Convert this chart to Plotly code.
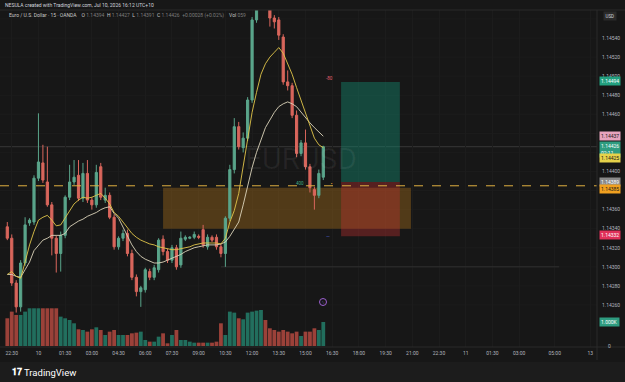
import plotly.graph_objects as go

# ---------------- data (EURUSD 15m, OANDA) ----------------
candle_open = [1.14342, 1.14330, 1.14283, 1.14258, 1.14304, 1.14346, 1.14347, 1.14393, 1.14409, 1.14389,
               1.14365, 1.14330, 1.14314, 1.14333, 1.14373, 1.14389, 1.14396, 1.14372, 1.14398, 1.14370,
               1.14365, 1.14405, 1.14370, 1.14375, 1.14352, 1.14321, 1.14330, 1.14335, 1.14314, 1.14289,
               1.14274, 1.14276, 1.14295, 1.14289, 1.14297, 1.14329, 1.14316, 1.14307, 1.14320, 1.14302,
               1.14329, 1.14330, 1.14331, 1.14332, 1.14339, 1.14321, 1.14331, 1.14331, 1.14321, 1.14314,
               1.14351, 1.14402, 1.14447, 1.14425, 1.14435, 1.14475, 1.14559, 1.14575, 1.14601, 1.14585,
               1.14561, 1.14559, 1.14541, 1.14494, 1.14490, 1.14459, 1.14419, 1.14430, 1.14405, 1.14381,
               1.14375, 1.14394]
candle_high = [1.14347, 1.14334, 1.14286, 1.14307, 1.14352, 1.14351, 1.14396, 1.14461, 1.14428, 1.14426,
               1.14368, 1.14333, 1.14337, 1.14375, 1.14407, 1.14412, 1.14412, 1.14409, 1.14412, 1.14373,
               1.14407, 1.14409, 1.14383, 1.14378, 1.14355, 1.14332, 1.14339, 1.14339, 1.14318, 1.14292,
               1.14280, 1.14299, 1.14298, 1.14302, 1.14330, 1.14333, 1.14319, 1.14323, 1.14323, 1.14337,
               1.14333, 1.14332, 1.14337, 1.14334, 1.14344, 1.14334, 1.14333, 1.14334, 1.14324, 1.14353,
               1.14407, 1.14456, 1.14452, 1.14441, 1.14478, 1.14562, 1.14580, 1.14606, 1.14609, 1.14588,
               1.14564, 1.14562, 1.14544, 1.14506, 1.14493, 1.14464, 1.14433, 1.14444, 1.14408, 1.14384,
               1.14402, 1.14427]
candle_low = [1.14328, 1.14280, 1.14252, 1.14253, 1.14301, 1.14343, 1.14344, 1.14390, 1.14388, 1.14363,
              1.14312, 1.14294, 1.14295, 1.14330, 1.14370, 1.14386, 1.14369, 1.14368, 1.14367, 1.14360,
              1.14362, 1.14370, 1.14367, 1.14350, 1.14318, 1.14318, 1.14327, 1.14311, 1.14286, 1.14269,
              1.14258, 1.14273, 1.14286, 1.14286, 1.14294, 1.14312, 1.14304, 1.14304, 1.14297, 1.14299,
              1.14327, 1.14329, 1.14329, 1.14329, 1.14320, 1.14318, 1.14326, 1.14318, 1.14310, 1.14300,
              1.14348, 1.14398, 1.14423, 1.14420, 1.14432, 1.14472, 1.14556, 1.14571, 1.14578, 1.14552,
              1.14550, 1.14538, 1.14491, 1.14485, 1.14456, 1.14415, 1.14416, 1.14402, 1.14378, 1.14360,
              1.14372, 1.14391]
candle_close = [1.14330, 1.14283, 1.14258, 1.14304, 1.14344, 1.14349, 1.14393, 1.14410, 1.14391, 1.14365,
                1.14330, 1.14314, 1.14333, 1.14373, 1.14389, 1.14394, 1.14372, 1.14398, 1.14370, 1.14365,
                1.14399, 1.14373, 1.14375, 1.14352, 1.14321, 1.14330, 1.14335, 1.14314, 1.14289, 1.14274,
                1.14278, 1.14297, 1.14289, 1.14299, 1.14328, 1.14316, 1.14307, 1.14320, 1.14300, 1.14330,
                1.14331, 1.14331, 1.14334, 1.14331, 1.14323, 1.14331, 1.14328, 1.14321, 1.14314, 1.14351,
                1.14402, 1.14447, 1.14426, 1.14435, 1.14475, 1.14559, 1.14575, 1.14601, 1.14585, 1.14561,
                1.14557, 1.14543, 1.14494, 1.14490, 1.14459, 1.14419, 1.14430, 1.14405, 1.14383, 1.14375,
                1.14398, 1.14426]
volume = [1154, 1432, 1293, 1293, 1432, 1571, 1571, 1571, 1571, 1571,
          1571, 1571, 1223, 1154, 1084, 945, 695, 667, 598, 695,
          778, 667, 459, 598, 667, 459, 459, 459, 528, 556,
          598, 250, 181, 181, 389, 528, 111, 459, 667, 250,
          250, 181, 139, 139, 139, 139, 139, 181, 945, 459,
          1432, 1390, 1154, 1112, 1390, 1432, 1473, 1501, 1084, 737,
          667, 598, 667, 598, 528, 598, 417, 598, 598, 737,
          667, 1000]
ma_fast = [1.14292, 1.14295, 1.14290, 1.14288, 1.14305, 1.14323, 1.14337, 1.14349, 1.14352, 1.14354,
           1.14349, 1.14343, 1.14344, 1.14351, 1.14359, 1.14366, 1.14370, 1.14373, 1.14372, 1.14373,
           1.14375, 1.14377, 1.14372, 1.14366, 1.14357, 1.14353, 1.14347, 1.14341, 1.14335, 1.14331,
           1.14328, 1.14326, 1.14324, 1.14323, 1.14321, 1.14320, 1.14319, 1.14318, 1.14318, 1.14319,
           1.14320, 1.14321, 1.14323, 1.14324, 1.14325, 1.14325, 1.14325, 1.14325, 1.14324, 1.14330,
           1.14347, 1.14359, 1.14377, 1.14405, 1.14433, 1.14462, 1.14483, 1.14502, 1.14513, 1.14520,
           1.14525, 1.14530, 1.14524, 1.14513, 1.14502, 1.14488, 1.14475, 1.14460, 1.14447, 1.14435,
           1.14428, 1.14425]
ma_slow = [1.14292, 1.14292, 1.14290, 1.14289, 1.14297, 1.14305, 1.14317, 1.14323, 1.14328, 1.14330,
           1.14333, 1.14333, 1.14333, 1.14335, 1.14342, 1.14345, 1.14348, 1.14350, 1.14353, 1.14355,
           1.14357, 1.14360, 1.14362, 1.14363, 1.14356, 1.14351, 1.14342, 1.14333, 1.14323, 1.14316,
           1.14311, 1.14308, 1.14306, 1.14304, 1.14304, 1.14305, 1.14307, 1.14309, 1.14311, 1.14313,
           1.14316, 1.14318, 1.14320, 1.14321, 1.14322, 1.14323, 1.14323, 1.14323, 1.14324, 1.14326,
           1.14332, 1.14339, 1.14347, 1.14365, 1.14386, 1.14404, 1.14420, 1.14433, 1.14446, 1.14454,
           1.14462, 1.14468, 1.14471, 1.14473, 1.14471, 1.14468, 1.14462, 1.14457, 1.14451, 1.14446,
           1.14441, 1.14437]

# time axis labels (candle-index positions, 15-minute bars starting Jul 9 22:15)
time_tick_idx = [1, 7, 13, 19, 25, 31, 37, 43, 49, 55, 61, 67, 73, 79, 85, 91, 97, 103, 109, 115, 123, 131]
time_tick_txt = ["22:30", "10", "01:30", "03:00", "04:30", "06:00", "07:30", "09:00", "10:30", "12:00",
                 "13:30", "15:00", "16:30", "18:00", "19:30", "21:00", "22:30", "11", "01:30", "03:00",
                 "05:00", "13"]
price_ticks = [1.1426, 1.1428, 1.1430, 1.1432, 1.1434, 1.1436, 1.1440,
               1.1446, 1.1448, 1.1450, 1.1452, 1.1454]
grid_ticks = [1.1426, 1.1428, 1.1430, 1.1432, 1.1434, 1.1436, 1.1438, 1.1440, 1.1442, 1.1444,
              1.1446, 1.1448, 1.1450, 1.1452, 1.1454, 1.1456]

# drawings
zone_idx = (35.0, 90.7)
zone_price = (1.14340, 1.14383)
pos_idx = (75.0, 88.2)
pos_entry, pos_target, pos_stop = 1.14389, 1.14494, 1.14332
alert_line = 1.14385
hline_price = 1.14426
hline2_price = 1.14300

# ---------------- layout geometry ----------------
W, H = 625, 382
ML, MR, MT, MB = 0, 28, 10, 35
PW, PH = W - ML - MR, H - MT - MB
BG = "#171717"
GRID = "#1c1c1c"
TXT = "#b2b5be"
UP, DN = "#5aa58b", "#d9665c"
FONT = "Roboto"


def px(x):
    return (x - ML) / PW


def py(y):
    return (H - MB - y) / PH


idx = list(range(len(candle_open)))
vol_colors = ["rgba(38,140,118,0.75)" if c >= o else "rgba(200,80,70,0.75)"
              for o, c in zip(candle_open, candle_close)]

fig = go.Figure()
fig.add_trace(go.Bar(x=idx, y=volume, marker_color=vol_colors, marker_line_width=0,
                     width=0.85, yaxis="y2", showlegend=False, hoverinfo="skip"))
fig.add_trace(go.Candlestick(x=idx, open=candle_open, high=candle_high, low=candle_low,
                             close=candle_close, showlegend=False,
                             increasing=dict(line=dict(color=UP, width=1), fillcolor=UP),
                             decreasing=dict(line=dict(color=DN, width=1), fillcolor=DN),
                             whiskerwidth=0))
fig.add_trace(go.Scatter(x=idx, y=ma_slow, mode="lines", line=dict(color="#ddd5bb", width=0.9),
                         showlegend=False, hoverinfo="skip"))
fig.add_trace(go.Scatter(x=idx, y=ma_fast, mode="lines", line=dict(color="#e2c64a", width=0.9),
                         showlegend=False, hoverinfo="skip"))

shapes = []
# zone + position tool
shapes.append(dict(type="rect", xref="x", yref="y", x0=zone_idx[0], x1=zone_idx[1],
                   y0=zone_price[0], y1=zone_price[1], fillcolor="rgba(215,140,25,0.30)",
                   line_width=0, layer="between"))
shapes.append(dict(type="rect", xref="x", yref="y", x0=pos_idx[0], x1=pos_idx[1],
                   y0=pos_entry, y1=pos_target, fillcolor="rgba(20,140,115,0.42)",
                   line_width=0, layer="between"))
shapes.append(dict(type="rect", xref="x", yref="y", x0=pos_idx[0], x1=pos_idx[1],
                   y0=pos_stop, y1=pos_entry, fillcolor="rgba(200,50,50,0.36)",
                   line_width=0, layer="between"))
# horizontal lines
shapes.append(dict(type="line", xref="paper", yref="y", x0=0, x1=1, y0=hline_price, y1=hline_price,
                   line=dict(color="#383838", width=1), layer="between"))
shapes.append(dict(type="line", xref="x", yref="y", x0=48, x1=124, y0=hline2_price, y1=hline2_price,
                   line=dict(color="#303030", width=1), layer="between"))
shapes.append(dict(type="line", xref="paper", yref="y", x0=0, x1=1, y0=alert_line, y1=alert_line,
                   line=dict(color="#e0b040", width=1, dash="dash")))
# frame lines
shapes.append(dict(type="line", xref="paper", yref="paper", x0=0, x1=W / PW, y0=py(10), y1=py(10),
                   line=dict(color="#2b2b2b", width=1)))
shapes.append(dict(type="line", xref="paper", yref="paper", x0=1, x1=1, y0=py(360), y1=py(10),
                   line=dict(color="#2b2b2b", width=1)))
shapes.append(dict(type="line", xref="paper", yref="paper", x0=0, x1=W / PW, y0=0, y1=0,
                   line=dict(color="#2b2b2b", width=1)))
shapes.append(dict(type="rect", xref="paper", yref="paper", x0=0, x1=W / PW, y0=py(382), y1=py(362),
                   fillcolor="#1c1c1c", line_width=0))
# purple icon
shapes.append(dict(type="circle", xref="paper", yref="paper", x0=px(319.5), x1=px(326.5),
                   y0=py(305.5), y1=py(298.5), line=dict(color="#9c5fd0", width=1)))
# horizontal price grid (faint)
for g in grid_ticks:
    shapes.append(dict(type="line", xref="paper", yref="y", x0=0, x1=1, y0=g, y1=g,
                       line=dict(color=GRID, width=1), layer="below"))

ann = []


def text(x, y, s, size=5, color=TXT, anchor="left", **kw):
    ann.append(dict(xref="paper", yref="paper", x=px(x), y=py(y), text=s, showarrow=False,
                    xanchor=anchor, yanchor="middle", font=dict(family=FONT, size=size, color=color), **kw))


def tag(y, s, bg, fg):
    ann.append(dict(xref="paper", yref="paper", x=px(598.5), y=py(y), text=s, showarrow=False,
                    xanchor="left", yanchor="middle", bgcolor=bg, borderpad=1, align="left",
                    font=dict(family=FONT, size=5, color=fg)))


SP = "&nbsp;&nbsp;"
DIM = "<span style='color:#7d7d7d'>{}</span>"
text(3, 5.5, "NESULA created with TradingView.com, Jul 10, 2026 16:12 UTC+10", size=5, color="#d1d4dc")
text(7, 16, "Euro / U.S. Dollar · 15 · OANDA" + SP + SP
     + "O " + DIM.format("1.14394") + SP + "H " + DIM.format("1.14427") + SP
     + "L " + DIM.format("1.14391") + SP + "C " + DIM.format("1.14426" + SP + "+0.00028 (+0.02%)")
     + SP + SP + "Vol " + DIM.format("059"),
     size=5, color="#c8c8c8")
text(610, 16, "USD", size=4.5, color="#d1d4dc", anchor="center", bgcolor="#2a2a2a", borderpad=1.5)
# watermark
text(301, 159, "EURUSD", size=30, color="rgba(255,255,255,0.06)", anchor="center")
# colored price-scale labels (stacked as on the chart)
tag(81, f"{pos_target:.5f}", "#22a07f", "#ffffff")
tag(136, f"{ma_slow[-1]:.5f}", "#e7a3bd", "#1a1a1a")
tag(149, f"{candle_close[-1]:.5f}<br>02:11", "#2e9c80", "#ffffff")
tag(158.5, f"{ma_fast[-1]:.5f}", "#e6d24a", "#1a1a1a")
tag(181.5, f"{pos_entry:.5f}", "#8a8a8a", "#ffffff")
tag(188.5, f"{alert_line:.5f}", "#f0a020", "#1a1a1a")
tag(235, f"{pos_stop:.5f}", "#e0305a", "#ffffff")
# volume label
ann.append(dict(xref="paper", yref="y2", x=px(598.5), y=volume[-1], text="1.000K", showarrow=False,
                xanchor="left", yanchor="middle", bgcolor="#2e9c80", borderpad=1,
                font=dict(family=FONT, size=5, color="#ffffff")))
text(606, 346, "0", size=5)
# small drawing labels
text(300, 183, "400", size=4.5, color="#3fae84", anchor="center")
text(330, 79, "-80", size=4.5, color="#e06070", anchor="center")
text(328, 236.5, "—", size=5, color="#5060d0", anchor="center")
text(332, 183, "▪", size=4, color="#e0a030", anchor="center")
text(323, 302, "ϟ", size=5, color="#b07de0", anchor="center")
# TradingView logo
text(10, 372, "<b>𝟏𝟕</b>", size=9, color="#ffffff")
text(22, 372, "TradingView", size=9.5, color="#ffffff")

fig.update_layout(
    width=W, height=H, margin=dict(l=ML, r=MR, t=MT, b=MB),
    paper_bgcolor=BG, plot_bgcolor=BG,
    font=dict(family=FONT, size=5, color=TXT),
    shapes=shapes, annotations=ann, showlegend=False,
    bargap=0.15,
    xaxis=dict(range=[-1.64, 132.5], rangeslider=dict(visible=False), showgrid=True,
               gridcolor=GRID, gridwidth=1, zeroline=False, showline=False,
               tickmode="array", tickvals=time_tick_idx, ticktext=time_tick_txt,
               tickfont=dict(family=FONT, size=5, color=TXT), ticks="", ticklabelstandoff=2),
    yaxis=dict(range=[1.142159, 1.145694], side="right", showgrid=False,
               zeroline=False, tickmode="array", tickvals=price_ticks,
               ticktext=[f"{v:.5f}" for v in price_ticks],
               tickfont=dict(family=FONT, size=5, color=TXT), ticks="", ticklabelstandoff=4),
    yaxis2=dict(range=[-42, 14000], overlaying="y", visible=False),
)

fig.write_html("out.html")
